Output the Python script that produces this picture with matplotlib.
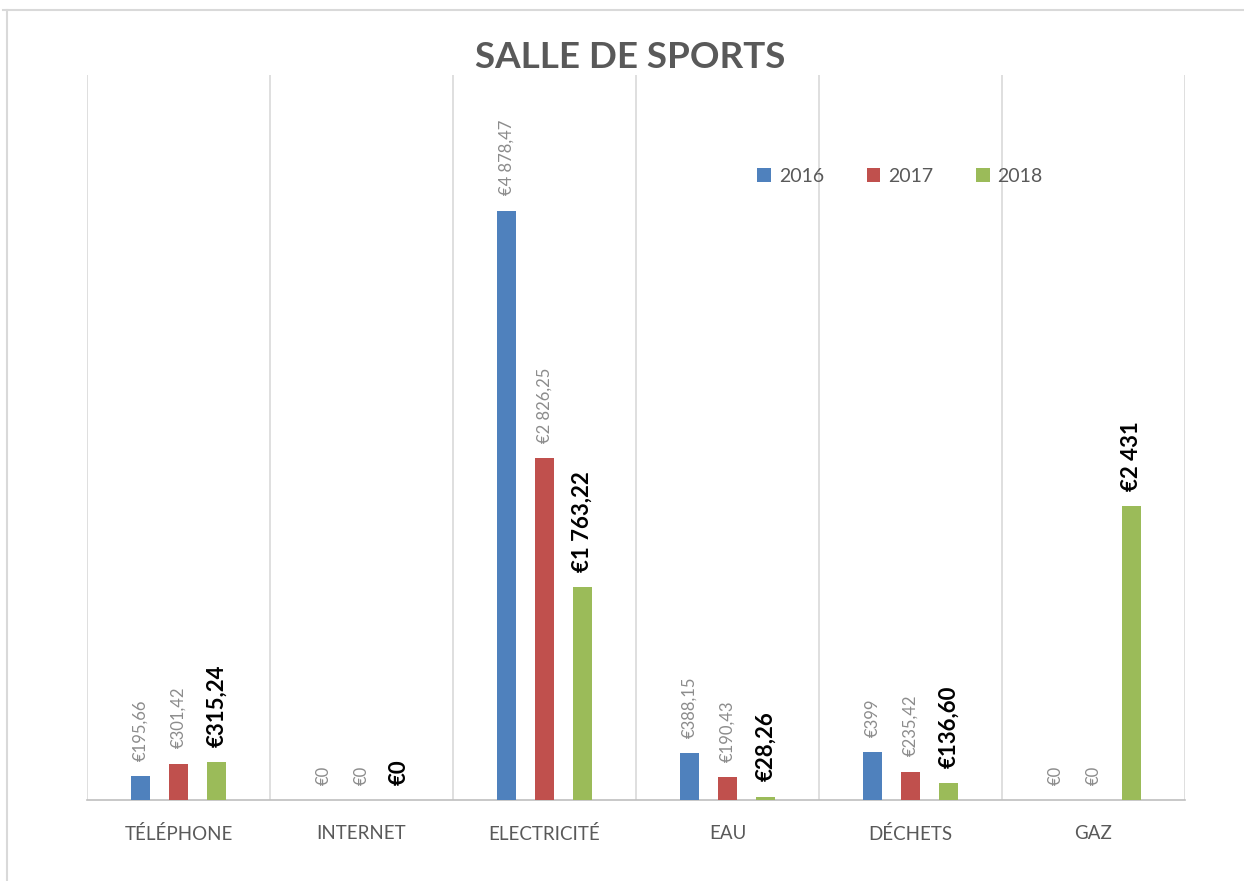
import matplotlib
matplotlib.use("Agg")
import matplotlib.pyplot as plt
import numpy as np
from matplotlib.lines import Line2D

categories = ["TÉLÉPHONE", "INTERNET", "ELECTRICITÉ", "EAU", "DÉCHETS", "GAZ"]
years = ["2016", "2017", "2018"]
v2016 = [195.66, 0, 4878.47, 388.15, 399, 0]
v2017 = [301.42, 0, 2826.25, 190.43, 235.42, 0]
v2018 = [315.24, 0, 1763.22, 28.26, 136.60, 2431]
colors = ["#4F81BD", "#C0504D", "#9BBB59"]

plt.rcParams['font.family'] = ['Lato', 'DejaVu Sans']

def fmt(v):
    if abs(v - round(v)) < 1e-9:
        s = f"{int(round(v)):,}".replace(",", " ")
    else:
        s = f"{v:,.2f}".replace(",", " ").replace(".", ",")
    return "€" + s

W, H = 1244, 881
fig = plt.figure(figsize=(W / 100, H / 100), dpi=100)
# outer chart frame: only top and left edges visible in the reference
fig.lines.append(Line2D([3 / W, 1.0], [1 - 10 / H, 1 - 10 / H], transform=fig.transFigure,
                        color="#d9d9d9", linewidth=1.5))
fig.lines.append(Line2D([7 / W, 7 / W], [0, 1 - 10 / H], transform=fig.transFigure,
                        color="#d9d9d9", linewidth=1.5))

ax = fig.add_axes([87 / W, (H - 800) / H, (1185 - 87) / W, (800 - 75) / H])
n = len(categories)
x = np.arange(n)
width = 0.109
offset = 0.2077
series = [v2016, v2017, v2018]
for i, (vals, c, yr) in enumerate(zip(series, colors, years)):
    pos = x + (i - 1) * offset
    ax.bar(pos, vals, width=width, color=c, label=yr, zorder=3)
    for p, v in zip(pos, vals):
        if i == 2:
            ax.annotate(fmt(v), (p, v), xytext=(0, 11), textcoords="offset points",
                        rotation=90, ha="center", va="bottom", fontsize=16,
                        fontweight="bold", color="black")
        else:
            ax.annotate(fmt(v), (p, v), xytext=(0, 11), textcoords="offset points",
                        rotation=90, ha="center", va="bottom", fontsize=12,
                        color="#8C8C8C")

ax.set_xlim(-0.5, n - 0.5)
ax.set_ylim(0, 6000)
for b in np.arange(-0.5, n, 1.0):
    ax.axvline(b, color="#d9d9d9", linewidth=1.2, zorder=1)
for s in ["top", "left", "right"]:
    ax.spines[s].set_visible(False)
ax.spines["bottom"].set_color("#bfbfbf")
ax.spines["bottom"].set_linewidth(1.2)
ax.set_yticks([])
ax.set_xticks(x)
ax.set_xticklabels(categories, fontsize=13.5, color="#595959")
ax.tick_params(axis="x", length=0, pad=18)

fig.text(630 / W, 1 - 57 / H, "SALLE DE SPORTS", ha="center", va="center",
         fontsize=26.5, fontweight="bold", color="#595959")

leg = ax.legend(loc="center", bbox_to_anchor=(900 / W, 1 - 176 / H),
                bbox_transform=fig.transFigure, ncol=3, frameon=False,
                fontsize=14, handlelength=0.7, handleheight=0.7,
                columnspacing=2.2, handletextpad=0.4, labelcolor="#595959")

fig.savefig("out.png", dpi=100)
